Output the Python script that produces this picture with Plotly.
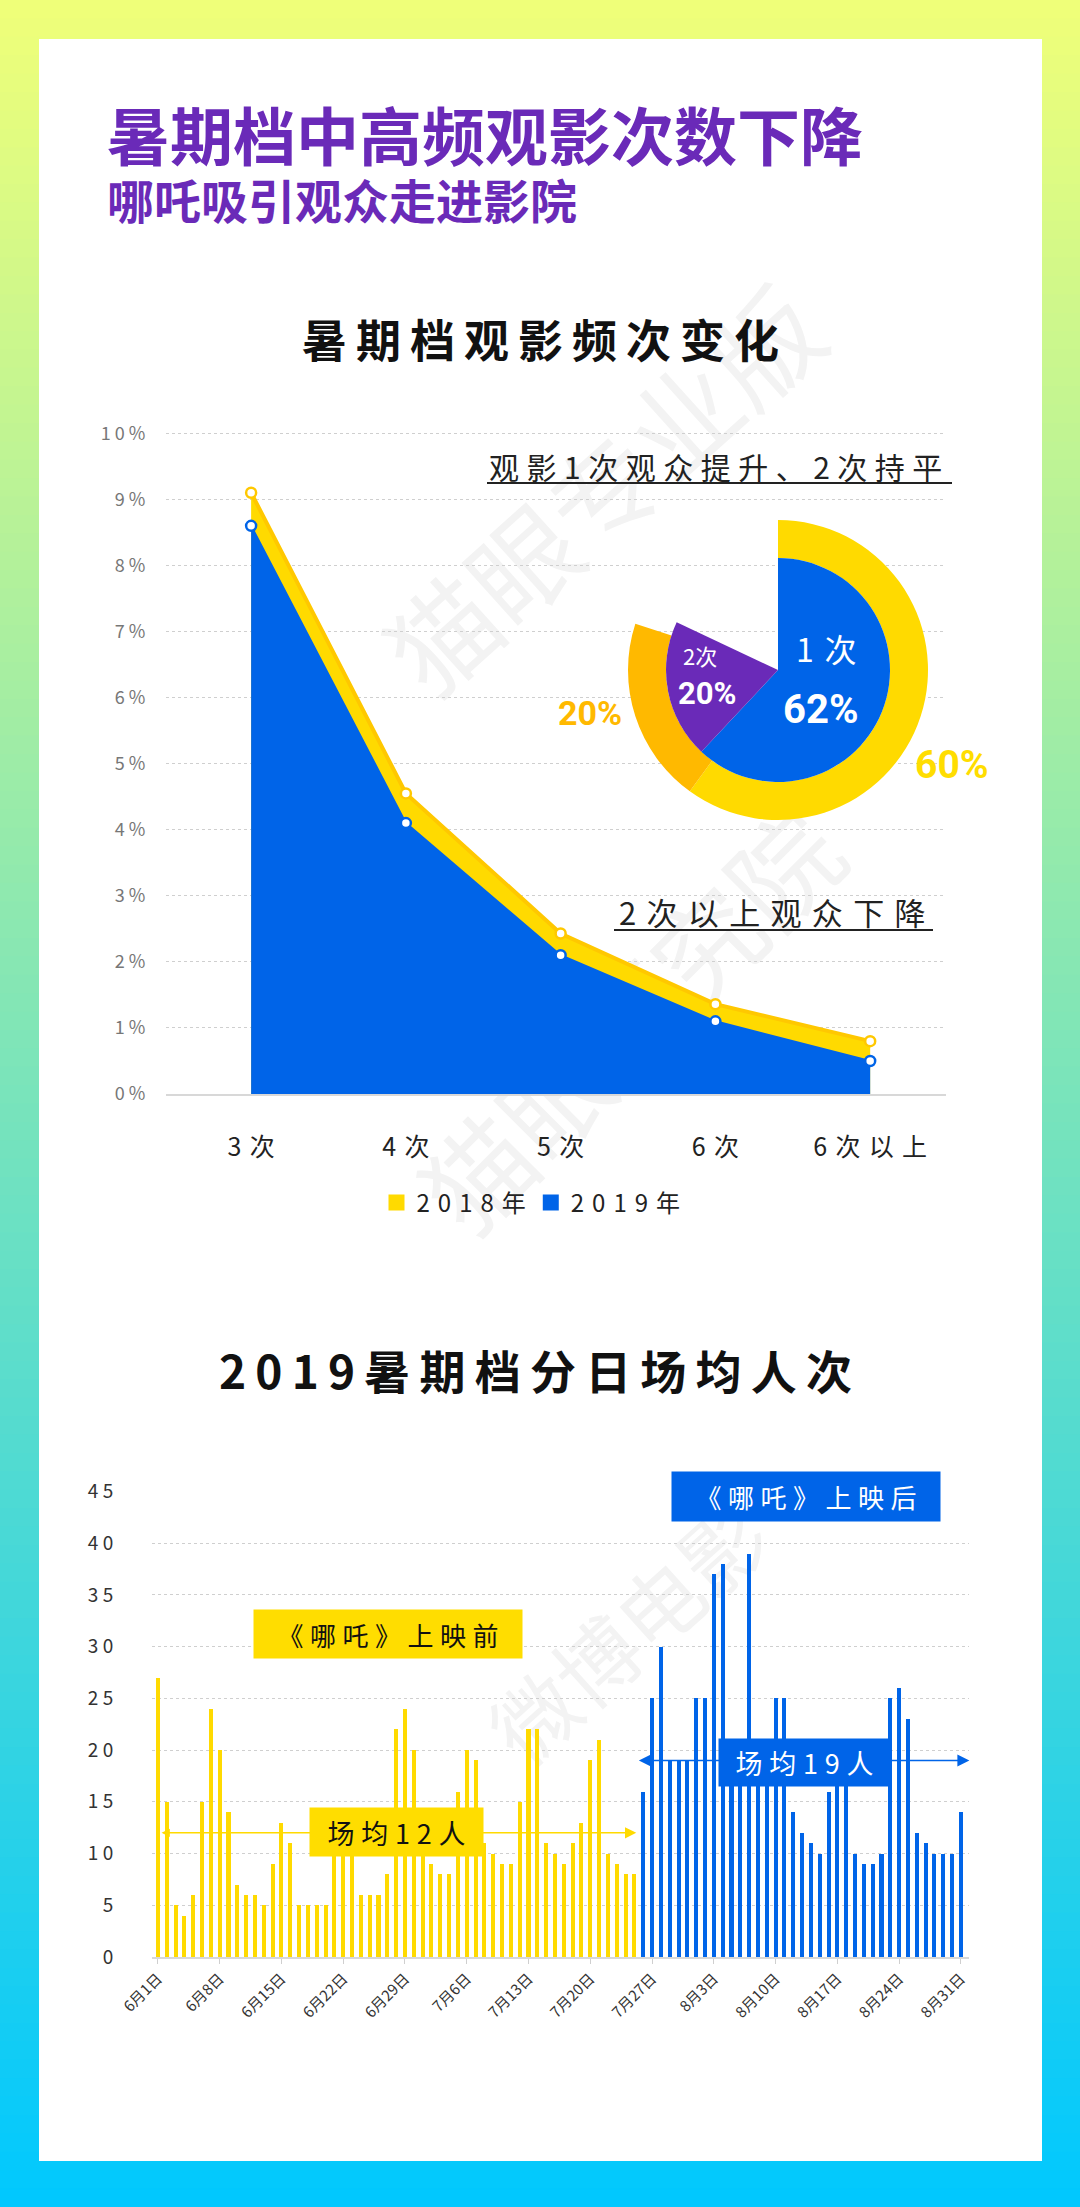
import plotly.graph_objects as go
import pandas as pd

W, H = 1080, 2207
FONT = "Noto Sans CJK SC, Noto Sans, sans-serif"
TITLE_FONT = "Liberation Sans, Noto Sans CJK SC, sans-serif"
NARROW = "Roboto, Noto Sans, sans-serif"

# ---------------- chart 1 data ----------------
freq_cats = ["3次", "4次", "5次", "6次", "6次以上"]
share_2018 = [9.1, 4.55, 2.43, 1.36, 0.8]
share_2019 = [8.6, 4.1, 2.1, 1.1, 0.5]
pct_ticks = [0, 1, 2, 3, 4, 5, 6, 7, 8, 9, 10]
series_names = ["2018年", "2019年"]

pie_labels = ["1次", "2次", "其他"]
pie_2018 = [60, 20, 20]
pie_2019 = [62, 20, 18]

# ---------------- chart 2 data ----------------
day_dates = pd.date_range("2019-06-01", "2019-08-31", freq="D").strftime("%Y-%m-%d").tolist()
daily_avg = [
    27, 15, 5, 4, 6, 15, 24, 20, 14, 7, 6, 6, 5, 9, 13, 11, 5, 5, 5, 5,
    10, 14, 12, 6, 6, 6, 8, 22, 24, 20,
    11, 9, 8, 8, 16, 20, 19, 11, 10, 9, 9, 15, 22, 22, 11, 10, 9, 11, 13, 19, 21, 10, 9, 8, 8,
    16, 25, 30, 19, 19, 19,
    25, 25, 37, 38, 20, 19, 39, 19, 21, 25, 25, 14, 12, 11, 10, 16, 18, 17, 10, 9, 9, 10,
    25, 26, 23, 12, 11, 10, 10, 10, 14,
]
release_date = "2019-07-26"
avg_before = 12
avg_after = 19
bar_y_ticks = [0, 5, 10, 15, 20, 25, 30, 35, 40, 45]
bar_tick_dates = day_dates[::7]
bar_tick_text = [f"{int(d[5:7])}月{int(d[8:10])}日" for d in bar_tick_dates]

main_title = "暑期档中高频观影次数下降"
sub_title = "哪吒吸引观众走进影院"

YELLOW = "#ffda00"
YELLOW_LINE = "#ffc800"
ORANGE = "#ffb900"
BLUE = "#0064e8"
PURPLE = "#6a2ab8"


def px(x):
    return x / W


def py(y):
    return 1 - y / H


def sp(s, ch="\u2005"):
    return ch.join(list(s))


fig = go.Figure()

# ---------------- line / area chart ----------------
fig.add_trace(go.Scatter(
    x=freq_cats, y=share_2018, mode="lines+markers", fill="tozeroy",
    fillcolor=YELLOW, line=dict(color=YELLOW_LINE, width=4),
    marker=dict(size=10, color="white", line=dict(color=YELLOW_LINE, width=2.5)),
    showlegend=False, hoverinfo="skip", xaxis="x", yaxis="y"))
fig.add_trace(go.Scatter(
    x=freq_cats, y=share_2019, mode="lines+markers", fill="tozeroy",
    fillcolor=BLUE, line=dict(color=BLUE, width=2),
    marker=dict(size=10, color="white", line=dict(color=BLUE, width=2.5)),
    showlegend=False, hoverinfo="skip", xaxis="x", yaxis="y"))
for name, col in zip(series_names, [YELLOW, BLUE]):
    fig.add_trace(go.Scatter(
        x=[None], y=[None], mode="markers", name=sp(name, "\u2004"),
        marker=dict(symbol="square", size=16, color=col),
        showlegend=True, xaxis="x", yaxis="y"))

# ---------------- nested pies ----------------
cx, cy, r_out, r_in = 778, 670, 150, 112
fig.add_trace(go.Pie(
    labels=pie_labels, values=pie_2018, hole=r_in / r_out, sort=False,
    direction="clockwise", rotation=0, textinfo="none", hoverinfo="skip",
    marker=dict(colors=[YELLOW, ORANGE, "rgba(0,0,0,0)"], line=dict(width=0)),
    domain=dict(x=[px(cx - r_out), px(cx + r_out)], y=[py(cy + r_out), py(cy - r_out)]),
    showlegend=False))
fig.add_trace(go.Pie(
    labels=pie_labels, values=pie_2019, sort=False,
    direction="clockwise", rotation=0, textinfo="none", hoverinfo="skip",
    marker=dict(colors=[BLUE, PURPLE, "rgba(0,0,0,0)"], line=dict(width=0)),
    domain=dict(x=[px(cx - r_in), px(cx + r_in)], y=[py(cy + r_in), py(cy - r_in)]),
    showlegend=False))

# ---------------- daily bars ----------------
bar_colors = [YELLOW if d < release_date else BLUE for d in day_dates]
fig.add_trace(go.Bar(
    x=day_dates, y=daily_avg, marker=dict(color=bar_colors, line=dict(width=0)),
    width=86400000 * 0.46, showlegend=False, hoverinfo="skip",
    xaxis="x2", yaxis="y2"))

# ---------------- background shapes ----------------
shapes = []
n = 120
top_c = (240, 255, 120)
bot_c = (0, 200, 255)
for k in range(n):
    t = (k + 0.5) / n
    c = tuple(int(round(top_c[i] + (bot_c[i] - top_c[i]) * t)) for i in range(3))
    shapes.append(dict(type="rect", xref="paper", yref="paper", layer="below",
                       x0=0, x1=1, y0=py((k + 1) * H / n + 1), y1=py(k * H / n),
                       line=dict(width=0), fillcolor="rgb(%d,%d,%d)" % c))
shapes.append(dict(type="rect", xref="paper", yref="paper", layer="below",
                   x0=px(39), x1=px(1042), y0=py(2161), y1=py(39),
                   line=dict(width=0), fillcolor="white"))
# watermarks
for txt, (wx, wy), size, ang in [("猫眼专业版", (612, 500), 108, -42),
                                 ("猫眼研究院", (640, 1030), 108, -45),
                                 ("微博电影", (635, 1640), 84, -42)]:
    shapes.append(dict(type="rect", xref="paper", yref="paper", layer="below",
                       x0=px(wx - 5), x1=px(wx + 5), y0=py(wy + 5), y1=py(wy - 5),
                       line=dict(width=0), fillcolor="rgba(0,0,0,0)",
                       label=dict(text=txt, textangle=ang, textposition="middle center",
                                  font=dict(size=size, color="#f3f3f3", family=FONT))))
# underlines
shapes.append(dict(type="line", xref="paper", yref="paper", x0=px(487), x1=px(952),
                   y0=py(483), y1=py(483), line=dict(color="#222222", width=2)))
shapes.append(dict(type="line", xref="paper", yref="paper", x0=px(614), x1=px(933),
                   y0=py(930), y1=py(930), line=dict(color="#222222", width=2)))

# ---------------- annotations ----------------
ann = []


def text(x, y, s, size, color="#222222", anchor="center", family=FONT, bold=False, align="center"):
    ann.append(dict(x=px(x), y=py(y), xref="paper", yref="paper", text=(f"<b>{s}</b>" if bold else s),
                    showarrow=False, xanchor=anchor, yanchor="middle", align=align,
                    font=dict(size=size, color=color, family=family)))


text(105, 138, main_title, 63, PURPLE, "left", family=TITLE_FONT, bold=True)
text(105, 203, sub_title, 47, PURPLE, "left", family=TITLE_FONT, bold=True)
text(540, 338, sp("暑期档观影频次变化", "\u2009"), 45, "#111111", bold=True)
text(535, 1369, sp("2019暑期档分日场均人次", "\u2009"), 46, "#111111", bold=True)

text(715, 466, sp("观影1次观众提升、2次持平", "\u2005"), 30, "#222222")
text(772, 912, sp("2次以上观众下降", "\u2004"), 31, "#222222")

text(826, 648, sp(pie_labels[0], "\u2004"), 32, "white")
text(820, 709, f"{pie_2019[0]}%", 40, "white", family=NARROW, bold=True)
text(700, 655, pie_labels[1], 22, "white")
text(707, 693, f"{pie_2019[1]}%", 31, "white", family=NARROW, bold=True)
text(590, 713, f"{pie_2018[1]}%", 34, ORANGE, family=NARROW, bold=True)
text(952, 765, f"{pie_2018[0]}%", 39, "#ffdd00", family=NARROW, bold=True)


def box(x, y, w, h, s, bg, color, size):
    ann.append(dict(x=px(x), y=py(y), xref="paper", yref="paper", text=s, showarrow=False,
                    xanchor="center", yanchor="middle", width=w, height=h, borderpad=0,
                    bgcolor=bg, font=dict(size=size, color=color, family=FONT)))


# arrows (drawn before label boxes)
ann.append(dict(x="2019-07-25 05:00", y=avg_before, ax=day_dates[0] + " 06:00", ay=avg_before,
                xref="x2", yref="y2", axref="x2", ayref="y2", text="", showarrow=True,
                arrowside="end+start", arrowhead=2, startarrowhead=2, arrowsize=1.5,
                startarrowsize=1.1, arrowwidth=1.5, arrowcolor=YELLOW, standoff=0, startstandoff=0))
ann.append(dict(x="2019-08-31 23:00", y=avg_after, ax="2019-07-25 08:00", ay=avg_after,
                xref="x2", yref="y2", axref="x2", ayref="y2", text="", showarrow=True,
                arrowside="end+start", arrowhead=2, startarrowhead=2, arrowsize=1.6,
                startarrowsize=1.6, arrowwidth=1.5, arrowcolor=BLUE, standoff=0, startstandoff=0))

box(388, 1634, 268, 48, sp("《哪吒》上映前"), "#ffdd00", "#111111", 26)
box(396, 1832, 173, 48, sp(f"场均{avg_before}人"), "#ffdd00", "#111111", 27)
box(806, 1496, 268, 49, sp("《哪吒》上映后"), BLUE, "white", 26)
box(804, 1762, 171, 47, sp(f"场均{avg_after}人"), BLUE, "white", 27)

# ---------------- layout ----------------
fig.update_layout(
    width=W, height=H, margin=dict(l=0, r=0, t=0, b=0, pad=0, autoexpand=False),
    paper_bgcolor="rgb(240,255,120)", plot_bgcolor="rgba(0,0,0,0)",
    font=dict(family=FONT, color="#222222"),
    shapes=shapes, annotations=ann, bargap=0, barmode="overlay",
    showlegend=True,
    legend=dict(orientation="h", x=px(531), xanchor="center", y=py(1203), yanchor="middle",
                font=dict(size=24, color="#222222", family=FONT), bgcolor="rgba(0,0,0,0)",
                itemsizing="trace", traceorder="normal"),
    xaxis=dict(domain=[px(166), px(946)], type="category", range=[-0.55, 4.49],
               tickmode="array", tickvals=freq_cats, ticktext=[sp(c, "\u2004") for c in freq_cats],
               tickfont=dict(size=25, color="#222222"), ticks="outside", ticklen=30,
               tickcolor="rgba(0,0,0,0)", showgrid=False, zeroline=False, automargin=False,
               showline=True, linecolor="#d8d8d8", linewidth=2, anchor="y", fixedrange=True),
    yaxis=dict(domain=[py(1094), py(432)], range=[0, 10.02], tickmode="array",
               tickvals=pct_ticks, ticktext=[" ".join(f"{v}%") for v in pct_ticks],
               tickfont=dict(size=18, color="#777777"), ticks="outside", ticklen=16,
               tickcolor="rgba(0,0,0,0)", showgrid=True, gridcolor="#cfcfcf", griddash="dot",
               gridwidth=1, zeroline=False, showline=False, anchor="x", fixedrange=True,
               automargin=False),
    xaxis2=dict(domain=[px(152), px(969)], type="date",
                range=["2019-05-31 08:00", "2019-08-31 22:00"], tickmode="array",
                tickvals=bar_tick_dates, ticktext=bar_tick_text, tickangle=-45,
                tickfont=dict(size=15, color="#333333"), ticks="outside", ticklen=5,
                tickcolor="#cfcfcf", showgrid=False, zeroline=False, showline=True,
                linecolor="#d8d8d8", linewidth=2, anchor="y2", fixedrange=True, automargin=False),
    yaxis2=dict(domain=[py(1957), py(1491)], range=[0, 45.05], tickmode="array",
                tickvals=bar_y_ticks, ticktext=[" ".join(str(v)) for v in bar_y_ticks],
                tickfont=dict(size=19, color="#333333"), ticks="outside", ticklen=34,
                tickcolor="rgba(0,0,0,0)", showgrid=True, gridcolor="#cfcfcf", griddash="dot",
                gridwidth=1, zeroline=False, showline=False, anchor="x2", fixedrange=True,
                automargin=False),
)

fig.write_html("out.html", config={"displayModeBar": False},
               post_script="document.body.style.margin='0';")
